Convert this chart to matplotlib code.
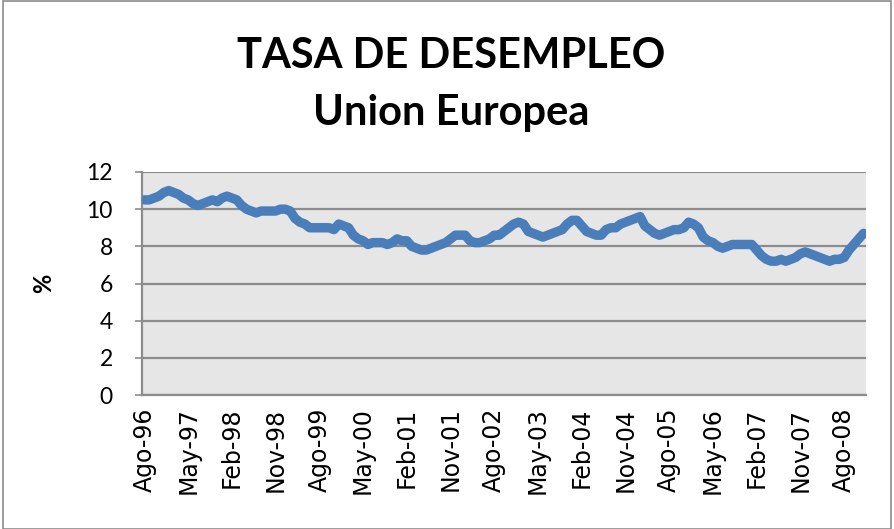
import matplotlib
matplotlib.use("Agg")
import matplotlib.pyplot as plt
import numpy as np

# Monthly unemployment rate, EU, Aug-1996 .. Dec-2008
values = [
    10.5, 10.5, 10.6, 10.7, 10.9, 11.0, 10.9, 10.8, 10.6, 10.5,
    10.3, 10.2, 10.3, 10.4, 10.5, 10.4, 10.6, 10.7, 10.6, 10.5,
    10.2, 10.0, 9.9, 9.8, 9.9, 9.9, 9.9, 9.9, 10.0, 10.0,
    9.9, 9.5, 9.3, 9.2, 9.0, 9.0, 9.0, 9.0, 9.0, 8.9,
    9.2, 9.1, 9.0, 8.6, 8.4, 8.3, 8.1, 8.2, 8.2, 8.2,
    8.1, 8.2, 8.4, 8.3, 8.3, 8.0, 7.9, 7.8, 7.8, 7.9,
    8.0, 8.1, 8.2, 8.4, 8.6, 8.6, 8.6, 8.3, 8.2, 8.2,
    8.3, 8.4, 8.6, 8.6, 8.8, 9.0, 9.2, 9.3, 9.2, 8.8,
    8.7, 8.6, 8.5, 8.6, 8.7, 8.8, 8.9, 9.2, 9.4, 9.4,
    9.1, 8.8, 8.7, 8.6, 8.6, 8.9, 9.0, 9.0, 9.2, 9.3,
    9.4, 9.5, 9.6, 9.1, 8.9, 8.7, 8.6, 8.7, 8.8, 8.9,
    8.9, 9.0, 9.3, 9.2, 9.0, 8.5, 8.3, 8.2, 8.0, 7.9,
    8.0, 8.1, 8.1, 8.1, 8.1, 8.1, 7.8, 7.5, 7.3, 7.2,
    7.2, 7.3, 7.2, 7.3, 7.4, 7.6, 7.7, 7.6, 7.5, 7.4,
    7.3, 7.2, 7.3, 7.3, 7.4, 7.8, 8.1, 8.4, 8.7,
]
tick_labels = ["Ago-96", "May-97", "Feb-98", "Nov-98", "Ago-99", "May-00",
               "Feb-01", "Nov-01", "Ago-02", "May-03", "Feb-04", "Nov-04",
               "Ago-05", "May-06", "Feb-07", "Nov-07", "Ago-08"]
tick_step = 9
y_ticks = [0, 2, 4, 6, 8, 10, 12]
title_line1 = "TASA DE DESEMPLEO"
title_line2 = "Union Europea"
y_label = "%"

fig = plt.figure(figsize=(8.94, 5.29), dpi=100)
fig.patch.set_facecolor("white")
# chart area border
fig.add_artist(plt.Rectangle((0.003, 0.0), 0.994, 0.998, transform=fig.transFigure,
                             fill=False, edgecolor="#8c8c8c", linewidth=1.2))

ax = fig.add_axes([142/894, 1-395/529, (866-142)/894, (395-172)/529])
ax.set_facecolor("#e6e6e6")

x = np.arange(len(values))
ax.plot(x, values, color="#4a7ebb", linewidth=6.8, solid_capstyle="round",
        solid_joinstyle="round", zorder=3)

ax.set_xlim(-0.5, len(values) - 0.5)
ax.set_ylim(0, 12)
ax.set_yticks(y_ticks)
ax.set_yticklabels([str(v) for v in y_ticks], fontsize=16.5, family="Lato")
ax.yaxis.grid(True, color="#8c8c8c", linewidth=1.6)
ax.set_axisbelow(True)

ax.set_xticks(x[::tick_step])
ax.set_xticklabels(tick_labels[:len(x[::tick_step])], rotation=90,
                   fontsize=17, family="DejaVu Sans")
ax.tick_params(axis="x", length=0, pad=9)
ax.tick_params(axis="y", length=5, width=1.2, color="#8c8c8c", pad=16)

for side in ["top", "right"]:
    ax.spines[side].set_visible(False)
for side in ["left", "bottom"]:
    ax.spines[side].set_color("#8c8c8c")
    ax.spines[side].set_linewidth(1.6)

ax.set_ylabel(y_label, fontsize=17, fontweight="bold", family="Lato")
ax.yaxis.set_label_coords((55 - 142) / 724, 0.5)

fig.text(0.505, 1 - 56/529, title_line1, ha="center", va="center",
         fontsize=30, fontweight="bold", family="Lato")
fig.text(0.505, 1 - 113/529, title_line2, ha="center", va="center",
         fontsize=30, fontweight="bold", family="Lato")

fig.savefig("out.png", dpi=100, facecolor="white")
